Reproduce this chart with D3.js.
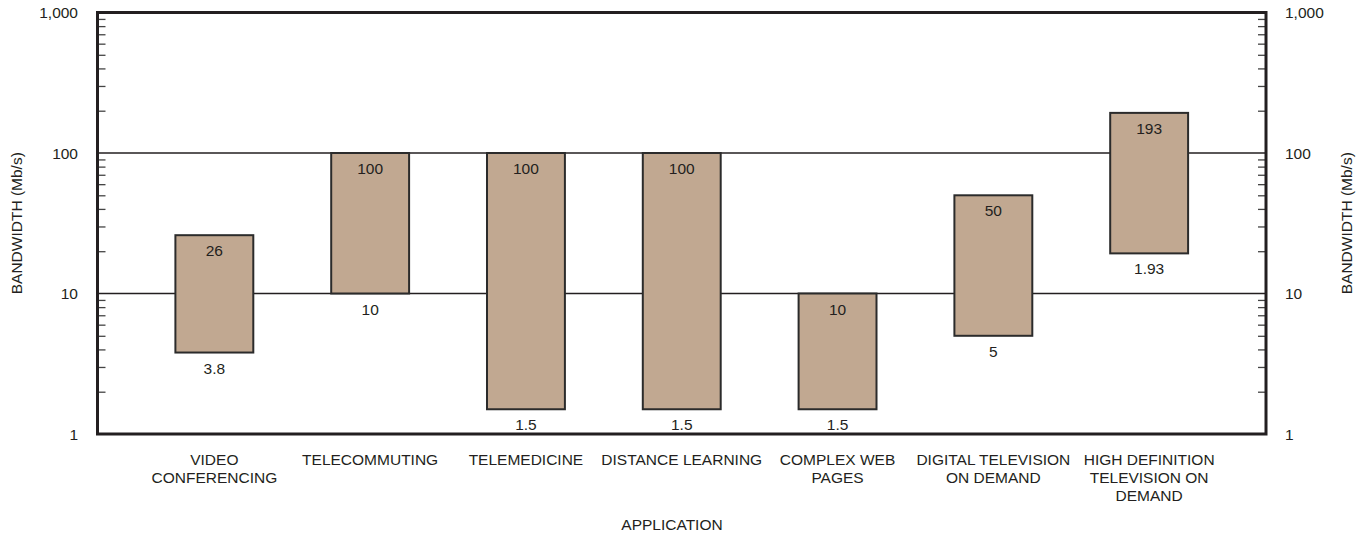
<!DOCTYPE html>
<html>
<head>
<meta charset="utf-8">
<script src="https://cdn.jsdelivr.net/npm/d3@7"></script>
<style>
  body { margin: 0; background: #fff; }
  text { font-family: "Liberation Sans", Arial, sans-serif; fill: #231f20; }
</style>
</head>
<body>
<div id="chart"></div>
<script>
// data
const applications = [
    ["VIDEO", "CONFERENCING"],
    ["TELECOMMUTING"],
    ["TELEMEDICINE"],
    ["DISTANCE LEARNING"],
    ["COMPLEX WEB", "PAGES"],
    ["DIGITAL TELEVISION", "ON DEMAND"],
    ["HIGH DEFINITION", "TELEVISION ON", "DEMAND"]
];
const lowValues = [3.8, 10, 1.5, 1.5, 1.5, 5, 19.3];
const highValues = [26, 100, 100, 100, 10, 50, 193];
const lowLabels = ["3.8", "10", "1.5", "1.5", "1.5", "5", "1.93"];
const highLabels = ["26", "100", "100", "100", "10", "50", "193"];
const yTicks = [1, 10, 100, 1000];

const data = applications.map((a, i) => ({
    name: a.join(" "), lines: a,
    low: lowValues[i], high: highValues[i],
    lowLabel: lowLabels[i], highLabel: highLabels[i]
}));

const W = 1370, H = 542;
const plot = { left: 97.5, right: 1266, top: 12.5, bottom: 434 };
const ink = "#231f20";

const svg = d3.select("#chart").append("svg")
    .attr("width", W).attr("height", H);

const x = d3.scaleBand()
    .domain(data.map(d => d.name))
    .range([plot.left, plot.right])
    .paddingInner(0.5)
    .paddingOuter(0.5);

const y = d3.scaleLog()
    .domain([1, 1000])
    .range([plot.bottom, plot.top]);

// minor ticks, inward on both sides
const minor = [];
[1, 10, 100].forEach(dec => { for (let k = 2; k <= 9; k++) minor.push(dec * k); });

svg.append("g")
    .attr("transform", `translate(${plot.left},0)`)
    .call(d3.axisRight(y).tickValues(minor).tickSize(8).tickFormat(""))
    .call(g => g.select(".domain").remove())
    .selectAll("line").attr("stroke", "#444").attr("stroke-width", 1.3);

svg.append("g")
    .attr("transform", `translate(${plot.right},0)`)
    .call(d3.axisLeft(y).tickValues(minor).tickSize(8).tickFormat(""))
    .call(g => g.select(".domain").remove())
    .selectAll("line").attr("stroke", "#444").attr("stroke-width", 1.3);

// gridlines at 10 and 100
svg.selectAll(".grid")
    .data([10, 100])
    .enter().append("line")
    .attr("class", "grid")
    .attr("x1", plot.left).attr("x2", plot.right)
    .attr("y1", d => y(d)).attr("y2", d => y(d))
    .attr("stroke", ink)
    .attr("stroke-width", 1.5);

// bars
svg.selectAll(".bar")
    .data(data)
    .enter().append("rect")
    .attr("class", "bar")
    .attr("x", d => x(d.name))
    .attr("width", x.bandwidth())
    .attr("y", d => y(d.high))
    .attr("height", d => y(d.low) - y(d.high))
    .attr("fill", "#c1a891")
    .attr("stroke", "#2b2b2b")
    .attr("stroke-width", 2);

svg.selectAll(".hi")
    .data(data)
    .enter().append("text")
    .attr("class", "hi")
    .attr("x", d => x(d.name) + x.bandwidth() / 2)
    .attr("y", d => y(d.high) + 21)
    .attr("text-anchor", "middle")
    .style("font-size", "15.5px")
    .text(d => d.highLabel);

svg.selectAll(".lo")
    .data(data)
    .enter().append("text")
    .attr("class", "lo")
    .attr("x", d => x(d.name) + x.bandwidth() / 2)
    .attr("y", d => y(d.low) + 21)
    .attr("text-anchor", "middle")
    .style("font-size", "15.5px")
    .text(d => d.lowLabel);

// frame
svg.append("rect")
    .attr("x", plot.left).attr("y", plot.top)
    .attr("width", plot.right - plot.left).attr("height", plot.bottom - plot.top)
    .attr("fill", "none")
    .attr("stroke", ink)
    .attr("stroke-width", 3);

// y tick labels, both sides
const fmt = d3.format(",");
svg.selectAll(".ytl")
    .data(yTicks)
    .enter().append("text")
    .attr("class", "ytl")
    .attr("x", 78)
    .attr("y", d => y(d) + 5.5)
    .attr("text-anchor", "end")
    .style("font-size", "15.5px")
    .text(d => fmt(d));

svg.selectAll(".ytr")
    .data(yTicks)
    .enter().append("text")
    .attr("class", "ytr")
    .attr("x", 1285)
    .attr("y", d => y(d) + 5.5)
    .attr("text-anchor", "start")
    .style("font-size", "15.5px")
    .text(d => fmt(d));

// axis titles
[17, 1347].forEach(cx => {
    svg.append("text")
        .attr("transform", `translate(${cx + 5},${(plot.top + plot.bottom) / 2}) rotate(-90)`)
        .attr("text-anchor", "middle")
        .style("font-size", "15.5px")
        .text("BANDWIDTH (Mb/s)");
});

// category labels
const cat = svg.selectAll(".cat")
    .data(data)
    .enter().append("text")
    .attr("class", "cat")
    .attr("text-anchor", "middle")
    .style("font-size", "15.5px");

cat.selectAll("tspan")
    .data(d => d.lines.map(l => ({ l, cx: x(d.name) + x.bandwidth() / 2 })))
    .enter().append("tspan")
    .attr("x", d => d.cx)
    .attr("y", (d, i) => 465 + i * 18)
    .text(d => d.l);

svg.append("text")
    .attr("x", 672)
    .attr("y", 530)
    .attr("text-anchor", "middle")
    .style("font-size", "15.5px")
    .text("APPLICATION");
</script>
</body>
</html>
